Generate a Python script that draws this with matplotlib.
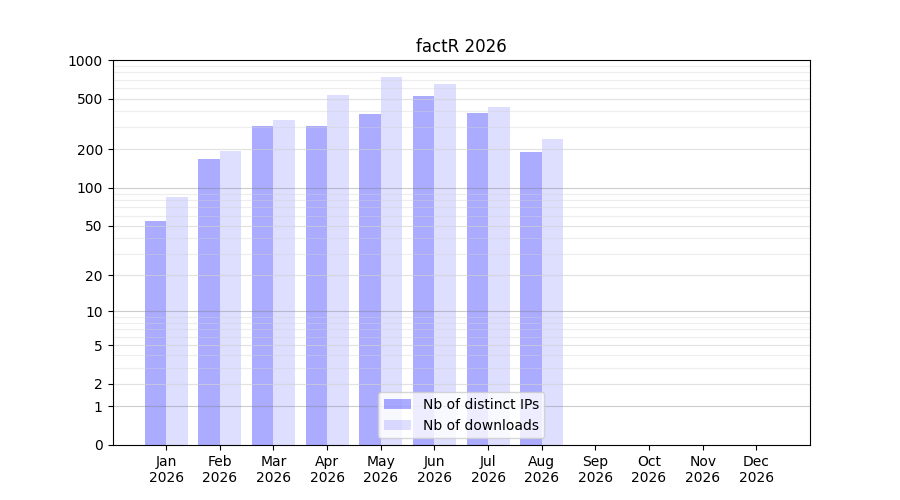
import numpy as np
import matplotlib
matplotlib.use('Agg')
import matplotlib.pyplot as plt
from matplotlib.ticker import FixedLocator, NullFormatter

months = ['Jan', 'Feb', 'Mar', 'Apr', 'May', 'Jun', 'Jul', 'Aug', 'Sep', 'Oct', 'Nov', 'Dec']
year = '2026'
ips = [55, 168, 304, 304, 378, 522, 385, 190]
downloads = [84, 194, 339, 532, 736, 649, 429, 240]

ticks = [0, 1, 2, 5, 10, 20, 50, 100, 200, 500, 1000]
minor = [m * d for d in (1, 10, 100) for m in range(2, 10)]

fig = plt.figure(figsize=(9, 5), dpi=100)
ax = fig.add_subplot(111)

x = np.arange(len(ips))
ax.bar(x - 0.2, ips, width=0.4, color='blue', alpha=0.33, label='Nb of distinct IPs')
ax.bar(x + 0.2, downloads, width=0.4, color='blue', alpha=0.13, label='Nb of downloads')

ax.set_yscale('function', functions=(lambda v: np.log10(np.clip(v, -0.999, None) + 1),
                                     lambda v: 10 ** v - 1))
ax.set_ylim(0, 1000)
ax.yaxis.set_major_locator(FixedLocator(ticks))
ax.set_yticklabels([str(t) for t in ticks])
ax.yaxis.set_minor_locator(FixedLocator(minor))
ax.yaxis.set_minor_formatter(NullFormatter())
ax.tick_params(axis='y', which='minor', length=0)

for v in (1, 10, 100):
    ax.axhline(v, color='grey', alpha=0.4, lw=0.8)
for v in minor + [2, 5, 20, 50, 200, 500]:
    ax.axhline(v, color='lightgrey', alpha=0.4, lw=0.8)

ax.set_xticks(range(12))
ax.set_xticklabels([m + '\n' + year for m in months])
ax.set_xlim(-1, 12)
ax.set_title('factR ' + year)
ax.legend(loc='lower center')

plt.savefig('out.png')
